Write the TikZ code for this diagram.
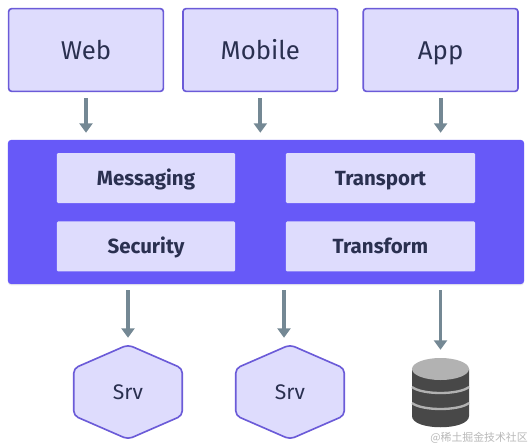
\documentclass[tikz,border=0pt]{standalone}
\usepackage{fontspec}
\setmainfont{Fira Sans}
\newfontfamily\wmfont{Noto Sans CJK SC}
\definecolor{gwborder}{HTML}{6B5BD8}
\definecolor{gwfill}{HTML}{DEDCFD}
\definecolor{gwpanel}{HTML}{6759F8}
\definecolor{gwarrow}{HTML}{748894}
\definecolor{gwtext}{HTML}{2A3050}
\definecolor{gwdbdark}{HTML}{484848}
\definecolor{gwdblight}{HTML}{B2B2B2}
\usetikzlibrary{shapes.geometric,arrows.meta,positioning,backgrounds,calc,shadows}
\tikzset{
  clientbox/.style={
    draw=gwborder, fill=gwfill, rounded corners=2.5pt, line width=1.4pt,
    minimum width=4.64cm, minimum height=2.48cm,
    text height=17pt, text depth=0pt,
    align=center, font=\fontsize{22}{26}\selectfont\color{gwtext}
  },
  panelbox/.style={
    fill=gwpanel, rounded corners=2.5pt,
    minimum width=15.48cm, minimum height=4.32cm,
    drop shadow={opacity=0.14, shadow xshift=0pt, shadow yshift=-1.2pt}
  },
  modbox/.style={
    fill=gwfill, rounded corners=1pt,
    minimum height=1.5cm, minimum width=#1,
    text height=12pt, text depth=0pt,
    align=center, font=\fontsize{17.5}{20}\selectfont\bfseries\color{gwtext}
  },
  srvnode/.style={
    minimum width=3.24cm, minimum height=2.82cm,
    text height=13.6pt, text depth=0pt,
    align=center, font=\fontsize{18}{22}\selectfont\color{gwtext}
  },
  hexline/.style={
    draw=gwborder, fill=gwfill, line width=1.4pt, rounded corners=4pt
  },
  flowarr/.style={
    -{Triangle[length=8pt,width=11pt]}, draw=gwarrow, line width=3.2pt
  }
}
\begin{document}
\begin{tikzpicture}[x=0.03cm,y=-0.03cm]

  \useasboundingbox (0,0) rectangle (532,448);

  %% ---- Clients ----
  \node[clientbox] (web_n) at (86,50) {Web};
  \node[clientbox, right=0.54cm of web_n] (mob_n) {Mobile};
  \node[clientbox, right=0.72cm of mob_n] (app_n) {App};

  %% ---- Gateway ----
  \node[panelbox] (gate_n) at (266,212) {};
  \node[modbox=5.34cm] (msg_n) at (146,178) {Messaging};
  \node[modbox=5.34cm, below=0.54cm of msg_n] (sec_n) {Security};
  \node[modbox=5.67cm] (tra_n) at (380.5,178) {Transport};
  \node[modbox=5.67cm, below=0.54cm of tra_n] (trf_n) {Transform};

  %% ---- Services ----
  \node[srvnode] (srv_a) at (128,392) {Srv};
  \node[srvnode] (srv_b) at (290,392) {Srv};
  \begin{scope}[on background layer]
    \foreach \nm in {srv_a,srv_b}
      \draw[hexline] (\nm.north)
        -- ($(\nm.north east)!0.25!(\nm.south east)$)
        -- ($(\nm.north east)!0.75!(\nm.south east)$)
        -- (\nm.south)
        -- ($(\nm.north west)!0.75!(\nm.south west)$)
        -- ($(\nm.north west)!0.25!(\nm.south west)$)
        -- cycle;
  \end{scope}

  %% ---- Database ----
  \node[minimum width=1.71cm, minimum height=2.07cm] (db_n) at (440.5,392.5) {};
  \fill[gwdbdark] (412,369) -- (412,416)
    .. controls (412,431) and (469,431) .. (469,416) -- (469,369) -- cycle;
  \fill[gwdblight] (440.5,369) ellipse [x radius=28.5, y radius=11];
  \draw[gwdblight, line width=2pt] (412,387)
    .. controls (422,395) and (459,395) .. (469,387);
  \draw[gwdblight, line width=2pt] (412,403)
    .. controls (422,411) and (459,411) .. (469,403);

  %% Watermark
  \node[anchor=east, inner sep=0pt, text=black!28, font=\fontsize{9.3}{11}\selectfont\wmfont]
    (mark_n) at (528,438) {@稀土掘金技术社区};

  %% Arrows
  \foreach \nm in {web_n,mob_n,app_n}
    \draw[flowarr, shorten <=0.18cm, shorten >=0.21cm]
      (\nm.south) -- (\nm.south |- gate_n.north);

  \draw[flowarr, shorten <=0.18cm, shorten >=0.21cm]
    (gate_n.south -| srv_a.north) -- (srv_a.north);
  \draw[flowarr, shorten <=0.18cm, shorten >=0.21cm]
    (gate_n.south -| 284,0) -- (284,0 |- srv_b.north);
  \draw[flowarr, shorten <=0.18cm, shorten >=0.24cm]
    (gate_n.south -| db_n.north) -- (db_n.north);

\end{tikzpicture}
\end{document}
